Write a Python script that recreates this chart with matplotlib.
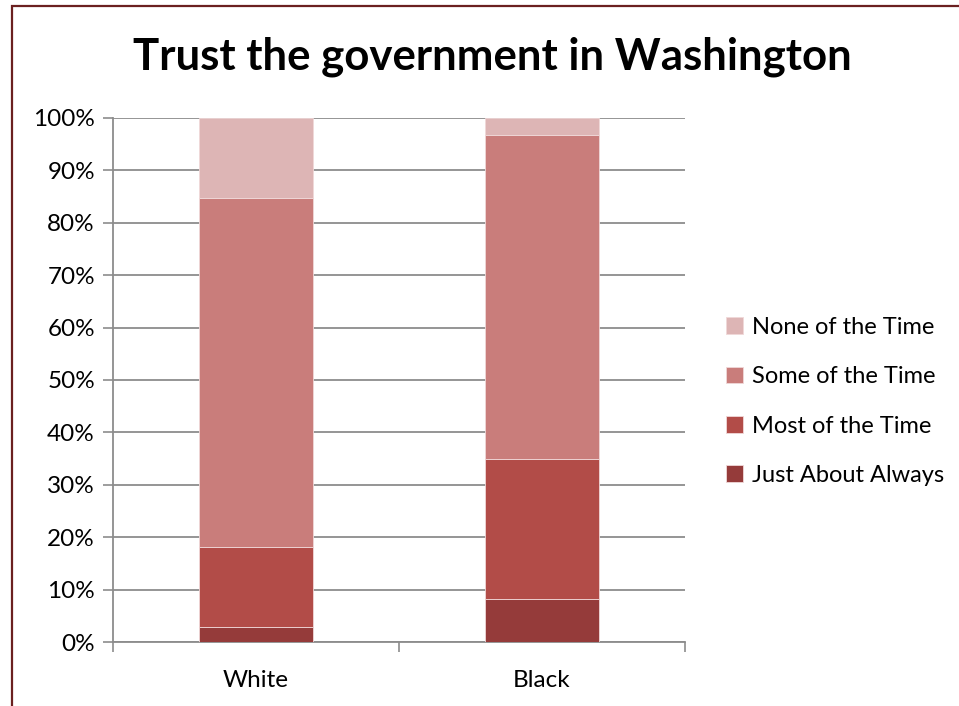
import matplotlib
matplotlib.use("Agg")
import matplotlib.pyplot as plt
from matplotlib.patches import Rectangle
from matplotlib.ticker import PercentFormatter, FixedLocator

plt.rcParams['font.family'] = ['Lato', 'DejaVu Sans']

groups = ['White', 'Black']
series = ['Just About Always', 'Most of the Time', 'Some of the Time', 'None of the Time']
just_always = [3.0, 8.2]
most_time = [15.1, 26.7]
some_time = [66.5, 61.8]
none_time = [15.4, 3.3]
colors = ['#953B3A', '#B24C48', '#C97D7B', '#DDB5B5']

fig = plt.figure(figsize=(9.59, 7.06), dpi=100)
ax = fig.add_axes([113 / 959, 1 - 642.3 / 706, 572 / 959, 524.6 / 706])

x = list(range(len(groups)))
bottom = [0, 0]
for name, vals, col in zip(series, [just_always, most_time, some_time, none_time], colors):
    ax.bar(x, vals, width=0.4, bottom=bottom, color=col, label=name,
           edgecolor='#F0D8D8', linewidth=0.6, zorder=3)
    bottom = [b + v for b, v in zip(bottom, vals)]

ax.set_xlim(-0.5, 1.5)
ax.set_ylim(0, 100)
ax.set_yticks(range(0, 101, 10))
ax.yaxis.set_major_formatter(PercentFormatter(decimals=0))
ax.grid(axis='y', color='#8C8C8C', linewidth=1.3, zorder=0)
ax.set_xticks(x)
ax.set_xticklabels(groups)
ax.xaxis.set_minor_locator(FixedLocator([-0.5, 0.5, 1.5]))
ax.tick_params(axis='x', which='major', length=0, pad=20, labelsize=17.5)
ax.tick_params(axis='x', which='minor', length=7, width=1.2, color='#8C8C8C')
ax.tick_params(axis='y', length=7, width=1.2, color='#8C8C8C', labelsize=17.5, pad=6)
for s in ['top', 'right']:
    ax.spines[s].set_visible(False)
for s in ['left', 'bottom']:
    ax.spines[s].set_color('#8C8C8C')
    ax.spines[s].set_linewidth(1.3)

fig.text(492 / 959, 1 - 57 / 706, 'Trust the government in Washington',
         ha='center', va='center', fontsize=31.5, fontweight='bold')

h, l = ax.get_legend_handles_labels()
fig.legend(h[::-1], l[::-1], loc='center left', bbox_to_anchor=(726 / 959, 1 - 401.5 / 706),
           frameon=False, fontsize=17, handlelength=0.7, handleheight=0.7,
           handletextpad=0.4, labelspacing=1.2, borderpad=0, borderaxespad=0)

fig.patches.append(Rectangle((12 / 959, -0.1), 1.2, 1 - 6 / 706 + 0.1,
                             transform=fig.transFigure, fill=False,
                             edgecolor='#6B2020', linewidth=1.6, clip_on=False))

fig.savefig('out.png', dpi=100)
